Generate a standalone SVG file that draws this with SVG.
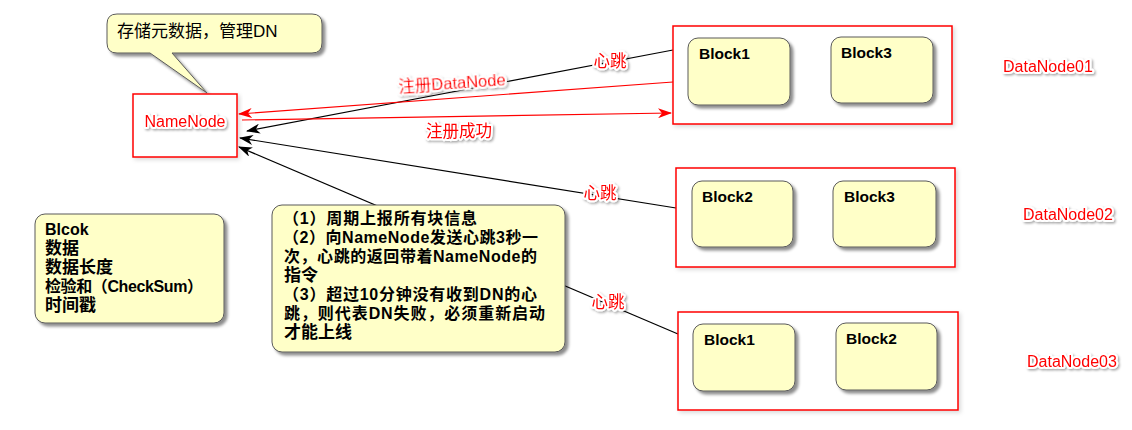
<svg xmlns="http://www.w3.org/2000/svg" width="1132" height="430" viewBox="0 0 1132 430">
<style>
.note{fill:#ffffc8;stroke:#5a5a5a;stroke-width:1;filter:url(#sh)}
.dn{fill:#fff;stroke:#ff0000;stroke-width:1.5;filter:url(#glow)}
.blk{fill:#ffffc8;stroke:#5a5a5a;stroke-width:1;filter:url(#sh)}
.bt{font-family:"Liberation Sans","Noto Sans CJK SC",sans-serif;font-weight:bold;font-size:15.5px;fill:#000}
.nt{font-family:"Liberation Sans","Noto Sans CJK SC",sans-serif;font-weight:bold;font-size:16px;fill:#000}
.nt.cj{font-size:17px}
.rl{font-family:"Liberation Sans","Noto Sans CJK SC",sans-serif;font-size:16.5px;fill:#ff0000;stroke:#fff;stroke-width:4;stroke-linejoin:round;paint-order:stroke;filter:url(#ts)}
.rl.sm{font-size:16px}
.ln{fill:none;stroke:#000;stroke-width:1.2}
.lr{fill:none;stroke:#ff0000;stroke-width:1.2}
</style>
<defs>
<filter id="sh" x="-10%" y="-10%" width="130%" height="130%">
<feDropShadow dx="3" dy="3" stdDeviation="1.5" flood-color="#000" flood-opacity="0.45"/>
</filter>
<filter id="glow" x="-5%" y="-10%" width="110%" height="120%">
<feDropShadow dx="2" dy="2" stdDeviation="2" flood-color="#000" flood-opacity="0.15"/>
</filter>
<filter id="ts" x="-10%" y="-20%" width="130%" height="150%">
<feDropShadow dx="1.5" dy="1.5" stdDeviation="1" flood-color="#000" flood-opacity="0.35"/>
</filter>
<marker id="ab" viewBox="0 0 14 10" refX="13" refY="5" markerWidth="14" markerHeight="10" markerUnits="userSpaceOnUse" orient="auto">
<path d="M0,0 L14,5 L0,10 L4,5 Z" fill="#000"/>
</marker>
<marker id="ar" viewBox="0 0 14 10" refX="13" refY="5" markerWidth="14" markerHeight="10" markerUnits="userSpaceOnUse" orient="auto">
<path d="M0,0 L14,5 L0,10 L4,5 Z" fill="#ff0000"/>
</marker>
</defs>
<rect width="1132" height="430" fill="#fff"/>

<g id="connectors">
<line class="ln" x1="678" y1="334" x2="239" y2="147" marker-end="url(#ab)"/>
<line class="ln" x1="673" y1="50" x2="247" y2="131" marker-end="url(#ab)"/>
<line class="ln" x1="676" y1="208" x2="240" y2="138" marker-end="url(#ab)"/>
<line class="lr" x1="673" y1="82" x2="239" y2="114" marker-end="url(#ar)"/>
<line class="lr" x1="242" y1="120" x2="671" y2="113" marker-end="url(#ar)"/>
<text class="rl" x="610" y="67" text-anchor="middle">心跳</text>
<text class="rl" x="452" y="89" text-anchor="middle" transform="rotate(-4 452 83)">注册DataNode</text>
<text class="rl" x="459" y="137" text-anchor="middle">注册成功</text>
<text class="rl" x="600" y="199" text-anchor="middle">心跳</text>
<text class="rl" x="608" y="308" text-anchor="middle">心跳</text>
</g>

<g id="callout">
<path class="note" d="M117,14 H312 Q322,14 322,24 V43 Q322,53 312,53 H172 L207,93 L150,53 H117 Q107,53 107,43 V24 Q107,14 117,14 Z"/>
<text x="117" y="37" font-family="'Liberation Sans','Noto Sans CJK SC',sans-serif" font-size="17" fill="#000">存储元数据，管理DN</text>
</g>

<g id="namenode">
<rect x="133" y="94" width="104" height="63" fill="#fff" stroke="#ff0000" stroke-width="1.5" filter="url(#glow)"/>
<text class="rl sm" x="185" y="127" text-anchor="middle">NameNode</text>
</g>

<g id="datanode01">
<rect class="dn" x="673" y="26" width="279" height="98"/>
<rect class="blk" x="688" y="38" width="102" height="67" rx="10"/>
<text class="bt" x="699" y="59">Block1</text>
<rect class="blk" x="831" y="37" width="102" height="66" rx="10"/>
<text class="bt" x="841" y="58">Block3</text>
<text class="rl sm" x="1003" y="72">DataNode01</text>
</g>

<g id="datanode02">
<rect class="dn" x="676" y="168" width="279" height="99"/>
<rect class="blk" x="692" y="181" width="101" height="66" rx="10"/>
<text class="bt" x="702" y="202">Block2</text>
<rect class="blk" x="833" y="181" width="103" height="66" rx="10"/>
<text class="bt" x="844" y="202">Block3</text>
<text class="rl sm" x="1023" y="220">DataNode02</text>
</g>

<g id="datanode03">
<rect class="dn" x="678" y="312" width="280" height="98"/>
<rect class="blk" x="693" y="324" width="102" height="67" rx="10"/>
<text class="bt" x="704" y="345">Block1</text>
<rect class="blk" x="836" y="323" width="101" height="67" rx="10"/>
<text class="bt" x="846" y="344">Block2</text>
<text class="rl sm" x="1027" y="367">DataNode03</text>
</g>

<g id="block-note">
<rect class="note" x="35" y="214" width="189" height="109" rx="10"/>
<text class="nt" x="45" y="235">Blcok</text>
<text class="nt cj" x="45" y="254">数据</text>
<text class="nt cj" x="45" y="273">数据长度</text>
<text class="nt" x="45" y="292" textLength="158" lengthAdjust="spacing">检验和（CheckSum）</text>
<text class="nt cj" x="45" y="311">时间戳</text>
</g>

<g id="dn-note">
<rect class="note" x="272" y="205" width="293" height="147" rx="10"/>
<text class="nt" x="283" y="224" textLength="194" lengthAdjust="spacing">（1）周期上报所有块信息</text>
<text class="nt" x="283" y="243" textLength="255" lengthAdjust="spacing">（2）向NameNode发送心跳3秒一</text>
<text class="nt" x="284" y="262" textLength="253" lengthAdjust="spacing">次，心跳的返回带着NameNode的</text>
<text class="nt cj" x="284" y="281">指令</text>
<text class="nt" x="283" y="300" textLength="254" lengthAdjust="spacing">（3）超过10分钟没有收到DN的心</text>
<text class="nt" x="284" y="319" textLength="261" lengthAdjust="spacing">跳，则代表DN失败，必须重新启动</text>
<text class="nt cj" x="284" y="338">才能上线</text>
</g>
</svg>
